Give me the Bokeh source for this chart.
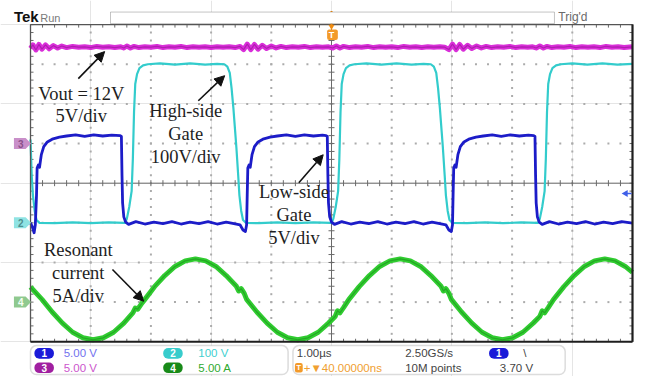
import numpy as np
from bokeh.plotting import figure
from bokeh.models import Range1d, Label, Arrow, NormalHead, BoxAnnotation
from bokeh.embed import file_html
from bokeh.resources import INLINE

# ---------------- data (time in microseconds, amplitude in divisions) ----------------
# CH3 : Vout (magenta) 5 V/div
ch3_t = [-5.00, -4.96, -4.91, -4.86, -4.81, -4.75, -4.69, -4.62, -4.55, -4.48, -4.40, -4.30, -4.20,
         -4.10, -4.00, -3.90, -3.80, -3.70, -3.60, -3.50, -3.45, -3.40, -3.34, -3.28, -3.20, -3.10,
         -3.00, -2.90, -2.80, -2.70, -2.60, -2.50, -2.40, -2.30, -2.20, -2.10, -2.00, -1.90, -1.80,
         -1.70, -1.60, -1.52, -1.46, -1.40, -1.34, -1.28, -1.22, -1.15, -1.08, -1.00, -0.92, -0.84,
         -0.75, -0.65, -0.55, -0.45, -0.35, -0.25, -0.15, -0.05, 0.02, 0.08, 0.14, 0.20, 0.30, 0.40,
         0.50, 0.60, 0.70, 0.80, 0.90, 1.00, 1.10, 1.20, 1.30, 1.40, 1.50, 1.60, 1.70, 1.80, 1.88,
         1.95, 2.01, 2.07, 2.13, 2.19, 2.26, 2.33, 2.41, 2.49, 2.57, 2.66, 2.76, 2.86, 2.96, 3.06,
         3.16, 3.26, 3.34, 3.40, 3.46, 3.52, 3.58, 3.66, 3.76, 3.86, 3.96, 4.06, 4.16, 4.26, 4.36,
         4.46, 4.56, 4.66, 4.76, 4.86, 5.00]
ch3_v = [3.40, 3.49, 3.36, 3.50, 3.38, 3.49, 3.39, 3.47, 3.41, 3.46, 3.42, 3.45, 3.43,
         3.44, 3.42, 3.45, 3.43, 3.44, 3.42, 3.44, 3.41, 3.46, 3.41, 3.45, 3.42, 3.44,
         3.43, 3.45, 3.42, 3.44, 3.43, 3.45, 3.42, 3.44, 3.43, 3.44, 3.42, 3.44, 3.43,
         3.44, 3.42, 3.45, 3.37, 3.51, 3.37, 3.50, 3.38, 3.48, 3.40, 3.46, 3.41, 3.45,
         3.42, 3.44, 3.43, 3.45, 3.42, 3.44, 3.43, 3.44, 3.41, 3.46, 3.41, 3.45, 3.42, 3.44,
         3.43, 3.45, 3.42, 3.44, 3.43, 3.44, 3.42, 3.45, 3.43, 3.44, 3.42, 3.44, 3.43, 3.44, 3.43,
         3.37, 3.51, 3.37, 3.50, 3.38, 3.48, 3.40, 3.46, 3.41, 3.45, 3.42, 3.44, 3.43, 3.45, 3.42,
         3.44, 3.43, 3.44, 3.41, 3.46, 3.41, 3.45, 3.42, 3.44, 3.43, 3.45, 3.42, 3.44, 3.43, 3.44,
         3.42, 3.45, 3.43, 3.44, 3.42, 3.44]

# CH2 : High-side gate (cyan) 100 V/div
ch2_t = [-5.00, -4.98, -4.96, -4.93, -4.90, -4.85, -4.60, -4.30, -4.00, -3.70, -3.45,
         -3.43, -3.40, -3.36, -3.32, -3.30, -3.28, -3.26, -3.23, -3.19, -3.13, -3.05,
         -2.85, -2.60, -2.35, -2.10, -1.90,
         -1.78, -1.73, -1.69, -1.66, -1.63, -1.60, -1.58, -1.55, -1.53, -1.50, -1.47, -1.42,
         -1.20, -0.90, -0.60, -0.30, -0.02,
         0.00, 0.03, 0.07, 0.11, 0.13, 0.15, 0.17, 0.20, 0.24, 0.30, 0.38,
         0.58, 0.83, 1.08, 1.33, 1.53,
         1.65, 1.70, 1.74, 1.77, 1.80, 1.83, 1.85, 1.88, 1.90, 1.93, 1.96, 2.01,
         2.25, 2.55, 2.85, 3.15, 3.41,
         3.43, 3.46, 3.50, 3.54, 3.56, 3.58, 3.60, 3.63, 3.67, 3.73, 3.81,
         4.00, 4.25, 4.50, 4.75, 5.00]
ch2_v = [1.10, 0.20, -0.30, -0.70, -0.93, -1.00, -1.01, -0.99, -1.01, -0.99, -1.00,
         -1.00, -0.90, -0.60, -0.20, 0.60, 1.80, 2.50, 2.75, 2.90, 2.97, 3.00,
         3.02, 2.99, 3.02, 2.99, 3.01,
         3.00, 2.94, 2.78, 2.40, 1.90, 1.30, 0.90, 0.20, -0.30, -0.70, -0.93, -1.00,
         -1.01, -0.99, -1.01, -0.99, -1.00,
         -1.00, -0.90, -0.60, -0.20, 0.60, 1.80, 2.50, 2.75, 2.90, 2.97, 3.00,
         3.02, 2.99, 3.02, 2.99, 3.01,
         3.00, 2.94, 2.78, 2.40, 1.90, 1.30, 0.90, 0.20, -0.30, -0.70, -0.93, -1.00,
         -1.01, -0.99, -1.01, -0.99, -1.00,
         -1.00, -0.90, -0.60, -0.20, 0.60, 1.80, 2.50, 2.75, 2.90, 2.97, 3.00,
         3.02, 2.99, 3.02, 2.99, 3.01]

# CH1 : Low-side gate (blue) 5 V/div
ch1_t = [-5.00, -4.97, -4.94, -4.92, -4.90, -4.89, -4.87, -4.85, -4.82, -4.78, -4.72, -4.64, -4.52,
         -4.40, -4.25, -4.10, -3.95, -3.80, -3.65, -3.51,
         -3.49, -3.48, -3.47, -3.45, -3.42, -3.37,
         -3.25, -3.10, -2.95, -2.80, -2.65, -2.50, -2.35, -2.20, -2.05, -1.90, -1.75, -1.62,
         -1.52, -1.47, -1.43, -1.41,
         -1.40, -1.39, -1.37, -1.35, -1.32, -1.28, -1.22, -1.14, -1.02, -0.90, -0.75, -0.60,
         -0.45, -0.30, -0.15, -0.09,
         -0.07, -0.06, -0.05, -0.03, 0.00, 0.05,
         0.17, 0.32, 0.47, 0.62, 0.77, 0.92, 1.07, 1.22, 1.37, 1.52, 1.67, 1.80,
         1.90, 1.95, 1.99, 2.01,
         2.02, 2.03, 2.05, 2.07, 2.10, 2.14, 2.20, 2.28, 2.40, 2.52, 2.67, 2.82, 2.97, 3.12,
         3.27, 3.36,
         3.38, 3.39, 3.40, 3.42, 3.45, 3.50,
         3.62, 3.77, 3.92, 4.07, 4.22, 4.37, 4.52, 4.67, 4.82, 5.00]
ch1_v = [-1.00, -1.10, -1.25, -1.05, -0.30, 0.38, 0.46, 0.40, 0.72, 0.92, 1.04, 1.11, 1.16,
         1.19, 1.22, 1.18, 1.22, 1.19, 1.21, 1.20,
         1.18, 0.20, -0.50, -0.85, -0.98, -1.04,
         -0.97, -1.03, -0.98, -1.02, -0.97, -1.03, -0.98, -1.02, -0.97, -1.03, -0.98, -1.02,
         -1.05, -1.18, -1.22, -1.05,
         -0.30, 0.38, 0.46, 0.40, 0.72, 0.92, 1.04, 1.11, 1.16, 1.19, 1.22, 1.18,
         1.22, 1.19, 1.21, 1.20,
         1.18, 0.20, -0.50, -0.85, -0.98, -1.04,
         -0.97, -1.03, -0.98, -1.02, -0.97, -1.03, -0.98, -1.02, -0.97, -1.03, -0.98, -1.02,
         -1.05, -1.18, -1.22, -1.05,
         -0.30, 0.38, 0.46, 0.40, 0.72, 0.92, 1.04, 1.11, 1.16, 1.19, 1.22, 1.18, 1.22, 1.19,
         1.21, 1.20,
         1.18, 0.20, -0.50, -0.85, -0.98, -1.04,
         -0.97, -1.03, -0.98, -1.02, -0.97, -1.03, -0.98, -1.02, -0.97, -1.01]

# CH4 : Resonant current (green) 5 A/div
ch4_t = [-5.00, -4.81, -4.64, -4.47, -4.30, -4.13, -3.96, -3.79, -3.62, -3.45,
         -3.30, -3.26, -3.22, -3.16, -3.11, -2.94, -2.77, -2.60, -2.43, -2.26, -2.09, -1.92, -1.75,
         -1.58, -1.54, -1.50, -1.45, -1.41, -1.24, -1.07, -0.90, -0.73, -0.56, -0.39, -0.22, -0.05,
         0.06, 0.10, 0.14, 0.20, 0.29, 0.46, 0.63, 0.80, 0.97, 1.14, 1.31, 1.48, 1.65,
         1.82, 1.86, 1.90, 1.95, 1.99, 2.16, 2.33, 2.50, 2.67, 2.84, 3.01, 3.18, 3.35,
         3.46, 3.50, 3.54, 3.60, 3.69, 3.86, 4.03, 4.20, 4.37, 4.54, 4.71, 4.88, 5.00]
ch4_v = [-2.62, -2.93, -3.25, -3.53, -3.76, -3.90, -3.95, -3.90, -3.76, -3.53,
         -3.27, -3.15, -3.18, -3.05, -2.95, -2.61, -2.33, -2.10, -1.96, -1.91, -1.96, -2.10, -2.33,
         -2.60, -2.72, -2.66, -2.78, -2.93, -3.25, -3.53, -3.76, -3.90, -3.95, -3.90, -3.76, -3.53,
         -3.36, -3.22, -3.27, -3.14, -2.93, -2.61, -2.33, -2.10, -1.96, -1.91, -1.96, -2.10, -2.33,
         -2.60, -2.72, -2.66, -2.78, -2.93, -3.25, -3.53, -3.76, -3.90, -3.95, -3.90, -3.76, -3.53,
         -3.36, -3.22, -3.27, -3.14, -2.93, -2.61, -2.33, -2.10, -1.96, -1.91, -1.96, -2.10, -2.25]

# channel ground markers (divisions) and trigger
marker_names = ["3", "2", "4"]
marker_offsets = [1.0, -1.0, -3.0]
ch1_offset = -1.0
ch1_scale = 5.00
trig_level = 3.70

# ---------------- geometry helpers ----------------
# the picture is taken from the figure's top-left corner
W, H = 634, 376
kx = (632.0 - 30.0) / (648 - 31)
ky = 375.0 / 389.0
GL, GR = 30.0, 632.0
GT, GB = 25 * ky, 354 * ky
ppx = (GR - GL) / 10.0
ppy = (GB - GT) / 8.0
x0 = -5.0 - GL / ppx
x1 = x0 + W / ppx
y1 = 4.0 + GT / ppy
y0 = y1 - H / ppy


def DX(xr):
    return x0 + (GL + (xr - 31) * kx) / ppx


def DY(yr):
    return y1 - (yr * ky) / ppy


def dx(n):
    return n / ppx


def dy(n):
    return n / ppy


p = figure(width=W, height=H, x_range=Range1d(x0, x1), y_range=Range1d(y0, y1),
           output_backend="svg", toolbar_location=None, min_border=0,
           x_axis_location=None, y_axis_location=None,
           background_fill_color="white", border_fill_color="white")
p.outline_line_color = None

# ---------------- graticule ----------------
minor_x = np.round(np.arange(-5, 5.0001, 0.2), 4)
minor_y = np.round(np.arange(-4, 4.0001, 0.2), 4)
gx, gy = [], []
for t in range(-4, 5):
    if t == 0:
        continue
    for v in minor_y[1:-1]:
        gx.append(t); gy.append(v)
for v in range(-3, 4):
    if v == 0:
        continue
    for t in minor_x[1:-1]:
        gx.append(t); gy.append(v)
p.scatter(gx, gy, marker="square", size=2, fill_color="#ababab", line_color=None)

# center lines
p.segment([0, -5], [-4, 0], [0, 5], [4, 0], line_color="#6a6a6a", line_width=1)
# ticks on center lines
p.segment(minor_x, [-dy(3)] * len(minor_x), minor_x, [dy(3)] * len(minor_x), line_color="#6a6a6a", line_width=1)
p.segment([-dx(3)] * len(minor_y), minor_y, [dx(3)] * len(minor_y), minor_y, line_color="#6a6a6a", line_width=1)
# border ticks
p.segment(minor_x, [4] * len(minor_x), minor_x, [4 - dy(3)] * len(minor_x), line_color="#6a6a6a", line_width=1)
p.segment(minor_x, [-4] * len(minor_x), minor_x, [-4 + dy(3)] * len(minor_x), line_color="#6a6a6a", line_width=1)
p.segment([-5] * len(minor_y), minor_y, [-5 + dx(3)] * len(minor_y), minor_y, line_color="#6a6a6a", line_width=1)
p.segment([5] * len(minor_y), minor_y, [5 - dx(3)] * len(minor_y), minor_y, line_color="#6a6a6a", line_width=1)

# ---------------- traces ----------------
p.line(ch3_t, ch3_v, line_color="#d92ed9", line_width=5, line_join="round")
p.line(ch3_t, ch3_v, line_color="#9c189c", line_width=1.2, line_alpha=0.7)
p.line(ch2_t, ch2_v, line_color="#33cccc", line_width=2.2, line_join="round")
p.line(ch1_t, ch1_v, line_color="#1c1cc8", line_width=2.8, line_join="round")
p.line(ch4_t, ch4_v, line_color="#30cc30", line_width=5, line_join="round")
p.line(ch4_t, ch4_v, line_color="#1c8f1c", line_width=1.2, line_alpha=0.6)

# border (drawn after traces)
p.segment([-5, -5], [-4, 4], [-5, 5], [4, 4], line_color="#555555", line_width=1.3)
p.segment([5, -5], [4, -4], [5, 5], [-4, -4], line_color="#1e1e1e", line_width=2.2)

# ---------------- channel markers on the left ----------------
m_fill = {"3": "#c98fc9", "2": "#8fe3e3", "4": "#8fc98f"}
m_text = {"3": "#8a4f8a", "2": "#4f8f8f", "4": "#f4fff4"}
xs, ys, cols = [], [], []
for name, off in zip(marker_names, marker_offsets):
    xs.append([DX(14), DX(26), DX(31.5), DX(26), DX(14)])
    ys.append([off + dy(5.5), off + dy(5.5), off, off - dy(5.5), off - dy(5.5)])
    cols.append(m_fill[name])
p.patches(xs, ys, fill_color=cols, line_color=None)
for name, off in zip(marker_names, marker_offsets):
    p.add_layout(Label(x=DX(21), y=off, text=name, text_font="Liberation Sans", text_font_style="bold",
                       text_font_size="10px", text_color=m_text[name], text_align="center",
                       text_baseline="middle"))

# trigger level marker on the right
trig_div = ch1_offset + trig_level / ch1_scale
p.segment([DX(642)], [trig_div], [DX(647)], [trig_div], line_color="#3f5fe8", line_width=1.5)
p.scatter([DX(641)], [trig_div], marker="triangle", angle=np.pi / 2, size=7,
          fill_color="#3f5fe8", line_color=None)


# ---------------- helpers for text ----------------
def lab(x, y, text, size, color, font="Liberation Sans", align="left", style="normal"):
    p.add_layout(Label(x=x, y=y, text=text, text_font=font, text_font_size=f"{size}px",
                       text_color=color, text_align=align, text_baseline="middle",
                       text_font_style=style))


def arrow(xa, ya, xb, yb):
    p.add_layout(Arrow(end=NormalHead(size=10, fill_color="#111111", line_color="#111111", line_width=1),
                       x_start=DX(xa), y_start=DY(ya), x_end=DX(xb), y_end=DY(yb),
                       line_color="#111111", line_width=1.6))


SER = "Liberation Serif"
TC = "#1e1e1e"
FT = 18.5
lab(DX(83), DY(97), "Vout = 12V", FT, TC, SER, "center")
lab(DX(83), DY(120), "5V/div", FT, TC, SER, "center")
lab(DX(190), DY(115), "High-side", FT, TC, SER, "center")
lab(DX(190), DY(139), "Gate", FT, TC, SER, "center")
lab(DX(190), DY(162), "100V/div", FT, TC, SER, "center")
lab(DX(301), DY(199), "Low-side", FT, TC, SER, "center")
lab(DX(301), DY(223), "Gate", FT, TC, SER, "center")
lab(DX(301), DY(246), "5V/div", FT, TC, SER, "center")
lab(DX(80), DY(259), "Resonant", FT, TC, SER, "center")
lab(DX(80), DY(283), "current", FT, TC, SER, "center")
lab(DX(80), DY(307), "5A/div", FT, TC, SER, "center")

arrow(80, 81, 107, 53)
arrow(203, 104, 230, 78)
arrow(306, 189, 331, 160)
arrow(115, 279, 147, 312)

# ---------------- header ----------------
lab(DX(14), DY(17), "Tek", 15, "#111111", style="bold")
lab(DX(41), DY(18), "Run", 11, "#7a7a7a")
p.add_layout(BoxAnnotation(left=DX(113), right=DX(568), top=DY(12), bottom=DY(24),
                           fill_color="white", fill_alpha=1, line_color="#3c3c3c", line_width=1))
p.segment([DX(206)], [DY(17.5)], [DX(477)], [DY(17.5)], line_color="#66dde0", line_width=2.2)
p.segment([0], [DY(11)], [0], [DY(26)], line_color="#f08c10", line_width=2)
p.scatter([0], [DY(27)], marker="inverted_triangle", size=6, fill_color="#f08c10", line_color=None)
p.add_layout(BoxAnnotation(left=DX(335), right=DX(346), top=DY(30), bottom=DY(41),
                           fill_color="#f39a2a", fill_alpha=1, line_color=None, border_radius=2))
lab(0, DY(35.5), "T", 9, "white", align="center", style="bold")
lab(DX(572), DY(17), "Trig'd", 12, "#6a6a6a")

# ---------------- footer ----------------
for l, r in [(31, 295), (300, 579)]:
    p.add_layout(BoxAnnotation(left=DX(l), right=DX(r), top=DY(358), bottom=DY(388),
                               fill_color="white", fill_alpha=1, line_color="#8c8c8c",
                               line_width=1.5, border_radius=6))


def pill(cx, cy, text, fill):
    p.add_layout(BoxAnnotation(left=DX(cx - 10), right=DX(cx + 10), top=DY(cy - 5.5), bottom=DY(cy + 5.5),
                               fill_color=fill, fill_alpha=1, line_color=None, border_radius=5))
    lab(DX(cx), DY(cy), text, 10, "white", align="center", style="bold")


pill(45, 366, "1", "#1a1ad8")
pill(45, 381, "3", "#a01fa0")
pill(177, 366, "2", "#38cccc")
pill(177, 381, "4", "#188a18")
pill(511, 366, "1", "#1a1ad8")

FS = 11.5
lab(DX(65), DY(366), "5.00 V", FS, "#7272ee")
lab(DX(65), DY(381), "5.00 V", FS, "#cc55cc")
lab(DX(203), DY(366), "100 V", FS, "#3fcfcf")
lab(DX(203), DY(381), "5.00 A", FS, "#2faa2f")
lab(DX(304), DY(366), "1.00µs", FS, "#444444")
lab(DX(415), DY(366), "2.50GS/s", FS, "#444444")
lab(DX(536), DY(366), "\\", FS, "#444444")
p.add_layout(BoxAnnotation(left=DX(302), right=DX(310), top=DY(376), bottom=DY(386),
                           fill_color="#f39a2a", fill_alpha=1, line_color=None, border_radius=2))
lab(DX(306), DY(381), "T", 8, "white", align="center", style="bold")
lab(DX(311), DY(381), "+▼40.00000ns", FS, "#f0a030")
lab(DX(415), DY(381), "10M points", FS, "#444444")
lab(DX(512), DY(381), "3.70 V", FS, "#444444")

open("out.html", "w").write(file_html(p, INLINE))
